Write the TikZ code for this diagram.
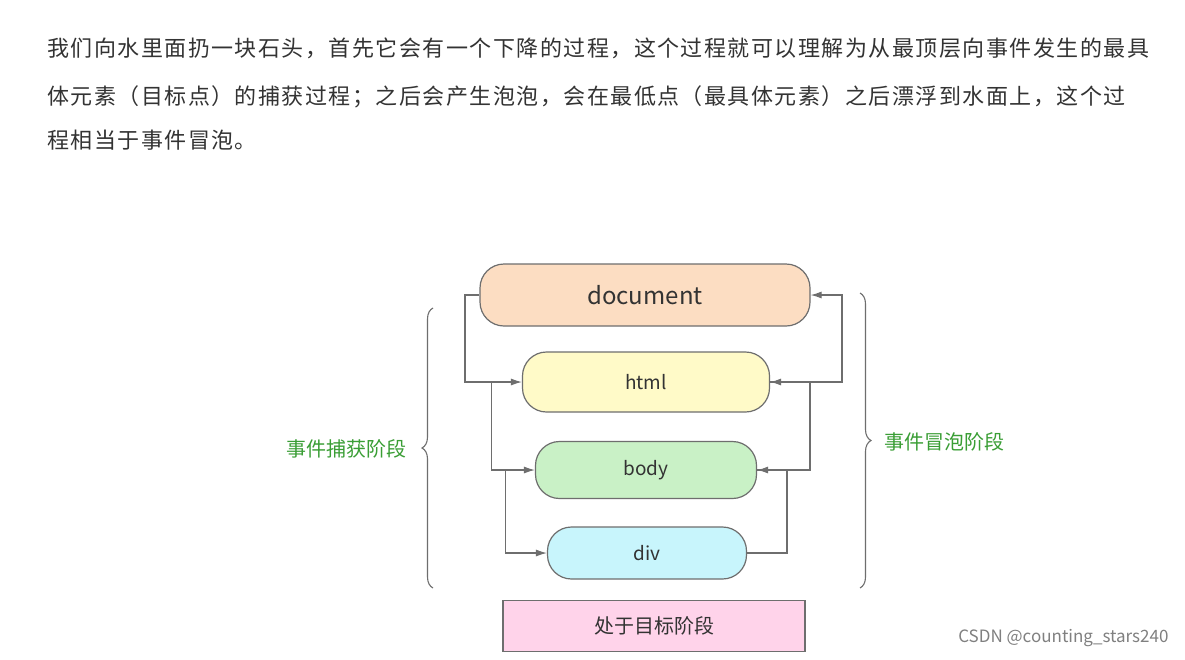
\documentclass[tikz,border=0pt]{standalone}
\usepackage{fontspec}
\setmainfont{Noto Sans CJK SC}
\newfontfamily\parafont[LetterSpace=6.7]{Noto Sans CJK SC}
\usetikzlibrary{arrows.meta,decorations.pathreplacing}
\definecolor{docfill}{HTML}{FCDDC2}
\definecolor{htmlfill}{HTML}{FFFAC8}
\definecolor{bodyfill}{HTML}{C9F1C6}
\definecolor{divfill}{HTML}{C8F5FC}
\definecolor{tgtfill}{HTML}{FFD3EA}
\definecolor{edgegray}{HTML}{6E6E6E}
\definecolor{labgreen}{HTML}{3A9E35}
\definecolor{txtgray}{HTML}{333333}
\tikzset{
  elem/.style={draw=edgegray, line width=1.2pt, rounded corners=24pt, inner sep=0pt, font=\fontsize{19}{19}\selectfont, text=txtgray},
  flow/.style={draw=edgegray, line width=1.1pt, -{Latex[length=11pt,width=7pt]}},
  brace/.style={draw=edgegray, line width=1.1pt, decorate, decoration={brace, amplitude=11pt}},
  phase/.style={font=\fontsize{20}{20}\selectfont, text=labgreen},
  para/.style={anchor=west, font=\parafont\fontsize{22}{22}\selectfont, text=txtgray, inner sep=0pt}
}
\begin{document}
\begin{tikzpicture}[x=1pt,y=-1pt]
   \useasboundingbox[fill=white] (0,0) rectangle (1185,659);

   \node[para] (l1) at (47,48) {我们向水里面扔一块石头，首先它会有一个下降的过程，这个过程就可以理解为从最顶层向事件发生的最具};
   \node[para] (l2) at (47,97) {体元素（目标点）的捕获过程；之后会产生泡泡，会在最低点（最具体元素）之后漂浮到水面上，这个过};
   \node[para] (l3) at (47,140) {程相当于事件冒泡。};

   \node[elem, fill=docfill, minimum width=330pt, minimum height=62pt, font=\fontsize{24}{24}\selectfont] (doc) at (645,295) {document};
   \node[elem, fill=htmlfill, minimum width=247pt, minimum height=60pt] (html) at (646,382) {html};
   \node[elem, fill=bodyfill, minimum width=221pt, minimum height=57pt] (body) at (646,470) {body};
   \node[elem, fill=divfill, minimum width=199pt, minimum height=52pt] (div) at (647,553) {div};
   \node[draw=edgegray, line width=1.2pt, fill=tgtfill, minimum width=302pt, minimum height=51pt, font=\fontsize{20}{20}\selectfont, text=txtgray] (tgt) at (654,626) {处于目标阶段};

   % capture
   \draw[flow] (doc.west) -| (465,382) -- (html.west);
   \draw[flow] (html.west) ++(-30,0) |- (body.west);
   \draw[flow] (body.west) ++(-29,0) |- (div.west);
   % bubble
   \draw[flow] (div.east) -| (787,470) -- (body.east);
   \draw[flow] (body.east) -| (810,382) -- (html.east);
   \draw[flow] (html.east) -| (842,295) -- (doc.east);

   \draw[brace] (433,588) -- (433,308);
   \draw[brace] (860,293) -- (860,588);
   \node[phase, anchor=east] (cap) at (410,449) {事件捕获阶段};
   \node[phase, anchor=west] (bub) at (881,442) {事件冒泡阶段};

   \node[anchor=east, text=gray, font=\fontsize{17}{17}\selectfont] (mark) at (1172,638) {CSDN @counting\_stars240};
\end{tikzpicture}
\end{document}
